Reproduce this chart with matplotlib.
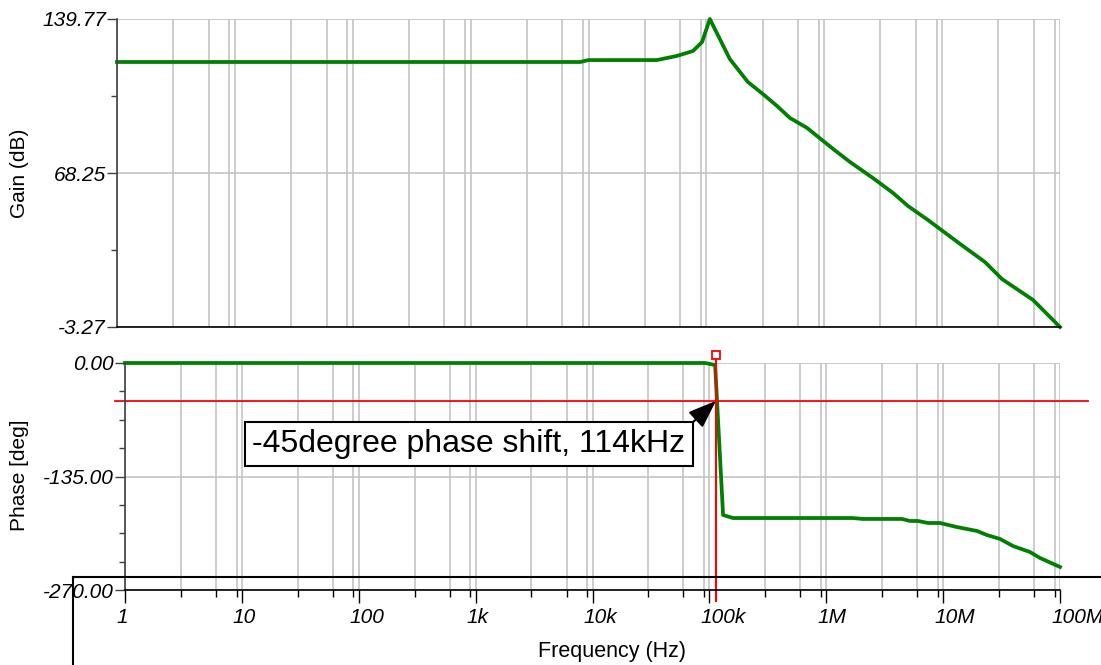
import matplotlib
matplotlib.use("Agg")
import matplotlib.pyplot as plt
import matplotlib.transforms as mtransforms
from matplotlib.lines import Line2D
from matplotlib.ticker import FixedLocator, NullFormatter
import numpy as np

plt.rcParams['font.family'] = ['Liberation Sans', 'DejaVu Sans']

# Gain curve (Hz, dB)
gain_freq = [1, 8.5e3, 1.0e4, 3.8e4, 5.6e4, 7.7e4, 9.2e4, 1.07e5, 1.58e5, 2.25e5,
             3.02e5, 3.97e5, 5.12e5, 7.14e5, 1.19e6, 1.65e6, 2.59e6, 3.83e6, 5.14e6,
             7.59e6, 1.42e7, 2.31e7, 3.22e7, 5.9e7, 1e8]
gain_db = [119.8, 119.8, 120.7, 120.7, 122.6, 124.9, 129.1, 139.77, 121.2, 110.5,
           104.9, 99.4, 93.8, 89.2, 79.4, 73.4, 65.9, 59.0, 52.9,
           46.4, 35.3, 26.9, 19.0, 9.3, -3.27]

# Phase curve (Hz, deg)
phase_freq = [1, 9.2e4, 1.12e5, 1.31e5, 1.59e5, 1.69e6, 2.06e6, 4.45e6, 5.21e6, 6.1e6,
              7.43e6, 9.4e6, 1.31e7, 1.95e7, 2.37e7, 3.07e7, 3.96e7, 5.53e7, 6.74e7, 1e8]
phase_deg = [0, 0, -2.4, -180.8, -184.4, -184.4, -185.5, -185.5, -187.9, -187.9,
             -190.3, -190.3, -195.1, -199.8, -204.6, -209.3, -217.7, -224.8, -231.9, -242.6]

cursor_freq = 114e3
cursor_phase = -45
note = "-45degree phase shift, 114kHz"

decades = [10.0 ** k for k in range(9)]
dec_labels = ["1", "10", "100", "1k", "10k", "100k", "1M", "10M", "100M"]
minor_x = [m * d for d in decades[:-1] for m in (3, 6, 9)]

gain_ticks = [-3.27, 68.25, 139.77]
phase_ticks = [-270, -135, 0]

W, H = 1101, 665


def rect(l, t, r, b):
    return [l / W, 1 - b / H, (r - l) / W, (b - t) / H]


fig = plt.figure(figsize=(W / 100, H / 100), dpi=100)
ax1 = fig.add_axes(rect(117, 19, 1060, 327))
ax2 = fig.add_axes(rect(125, 363, 1060, 590))

grid_c = '#c4c4c4'
green = '#008000'

for ax in (ax1, ax2):
    ax.set_xscale('log')
    ax.set_xlim(1, 1e8)
    ax.xaxis.set_major_locator(FixedLocator(decades))
    ax.xaxis.set_minor_locator(FixedLocator(minor_x))
    ax.xaxis.set_minor_formatter(NullFormatter())
    ax.grid(True, which='major', axis='both', color=grid_c, lw=1.2)
    ax.grid(True, which='minor', axis='x', color=grid_c, lw=1.2)
    ax.set_axisbelow(True)
    for s in ('top', 'right'):
        ax.spines[s].set_visible(False)
    ax.spines['left'].set_color('#404040')
    ax.spines['left'].set_linewidth(1.2)
    ax.spines['bottom'].set_color('black')
    ax.spines['bottom'].set_linewidth(1.2)
    ax.tick_params(axis='y', which='major', length=7, width=1, color='#404040',
                   labelsize=15, pad=1)
    ax.tick_params(axis='y', which='minor', length=4, width=1, color='#404040')

# Gain
ax1.set_ylim(-3.27, 139.77)
ax1.set_yticks(gain_ticks)
ax1.set_yticklabels([f"{v:.2f}" for v in gain_ticks], fontstyle='italic')
ax1.yaxis.set_minor_locator(FixedLocator([32.49, 104.01]))
ax1.tick_params(axis='x', which='both', length=0, labelbottom=False)
ax1.plot(gain_freq, gain_db, color=green, lw=2.7, clip_on=False, solid_joinstyle='round')

# Phase
ax2.set_ylim(-270, 0)
ax2.set_yticks(phase_ticks)
ax2.set_yticklabels([f"{v:.2f}" for v in phase_ticks], fontstyle='italic')
ax2.yaxis.set_minor_locator(FixedLocator([-236.25, -202.5, -168.75, -101.25, -67.5, -33.75]))
ax2.set_xticklabels(dec_labels, fontstyle='italic', ha='left')
ax2.tick_params(axis='x', which='major', length=9, width=1, color='black',
                labelsize=15, pad=4)
ax2.tick_params(axis='x', which='minor', length=5, width=1, color='black')
shift = mtransforms.ScaledTranslation(-9 / 100, 0, fig.dpi_scale_trans)
for lab in ax2.get_xticklabels():
    lab.set_transform(lab.get_transform() + shift)
ax2.plot(phase_freq, phase_deg, color=green, lw=2.7, clip_on=False, solid_joinstyle='round')

# cursor lines
blend = mtransforms.blended_transform_factory(fig.transFigure, ax2.transData)
ax2.plot([115 / W, 1088 / W], [cursor_phase, cursor_phase], color='red', lw=1.3,
         transform=blend, clip_on=False)
ax2.plot([cursor_freq, cursor_freq], [13, -283], color='red', lw=1.5, clip_on=False)
ax2.plot([cursor_freq], [9.5], marker='s', ms=6, mfc='white', mec='red', mew=1.3,
         clip_on=False)

ax2.annotate(note, xy=(cursor_freq, cursor_phase), xycoords='data',
             xytext=(469, H - 444), textcoords='figure pixels',
             ha='center', va='center', fontsize=23,
             bbox=dict(boxstyle='square,pad=0.22', fc='white', ec='black', lw=1.5),
             arrowprops=dict(arrowstyle='-|>,head_length=0.75,head_width=0.28',
                             color='black', lw=1.5, shrinkA=0, shrinkB=0,
                             relpos=(1.0, 1.0)))

fig.text(20 / W, 1 - 173 / H, "Gain (dB)", rotation=90, ha='center', va='center', fontsize=15)
fig.text(20 / W, 1 - 475 / H, "Phase [deg]", rotation=90, ha='center', va='center', fontsize=15)
fig.text(612 / W, 1 - 651 / H, "Frequency (Hz)", ha='center', va='center', fontsize=15.5)

# frame lines at the bottom left
fig.add_artist(Line2D([73 / W, 1], [1 - 577 / H, 1 - 577 / H], color='black', lw=1.5))
fig.add_artist(Line2D([73 / W, 73 / W], [1 - 577 / H, 0], color='black', lw=1.5))

fig.savefig("out.png", dpi=100)
